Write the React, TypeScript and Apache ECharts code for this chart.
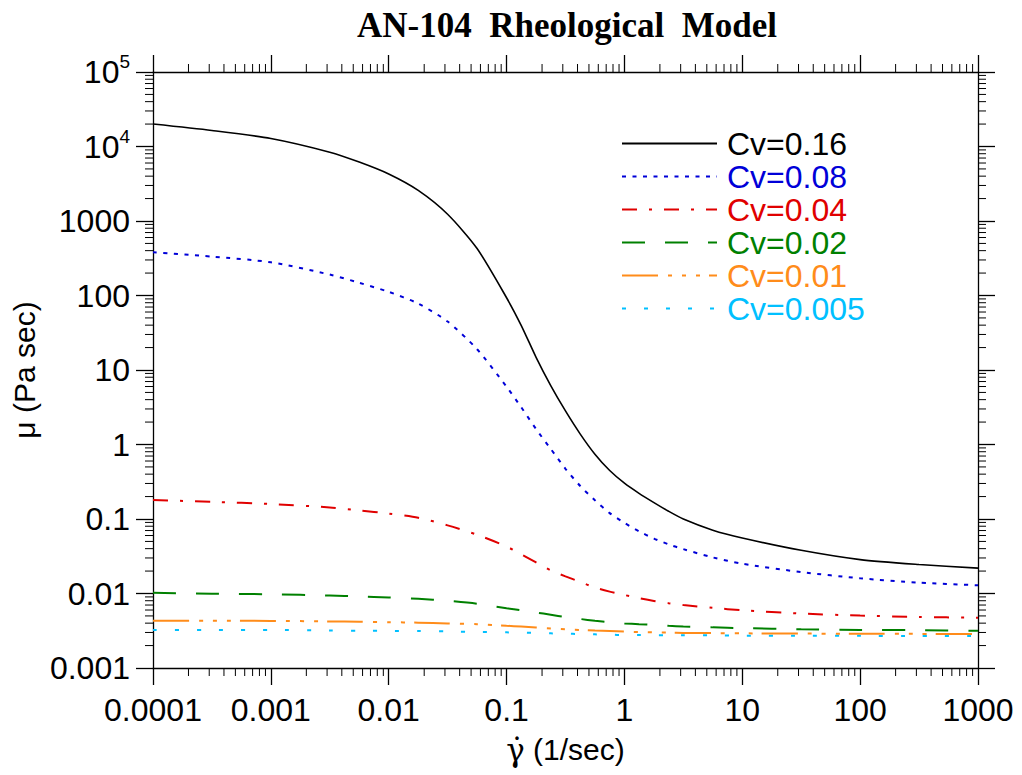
import React, { useEffect, useRef } from 'react';
import * as echarts from 'echarts';

// Shear rate (1/sec) sample points
const shearRates = [0.0001, 0.000316, 0.001, 0.00316, 0.00562, 0.01, 0.0178, 0.0316, 0.0562, 0.1, 0.133, 0.178, 0.237, 0.316, 0.422, 0.562, 0.75, 1, 1.33, 1.78, 2.37, 3.16, 5.62, 10, 31.6, 100, 316, 1000];

const seriesNames = ['Cv=0.16', 'Cv=0.08', 'Cv=0.04', 'Cv=0.02', 'Cv=0.01', 'Cv=0.005'];

const mu016 = [20000, 16400, 12800, 8380, 6170, 4270, 2570, 1230, 427, 93.3, 39.8, 14.8, 6.17, 2.82, 1.38, 0.741, 0.447, 0.302, 0.221, 0.166, 0.127, 0.1, 0.0708, 0.0556, 0.038, 0.0285, 0.0245, 0.0219];
const mu008 = [380, 333, 279, 191, 148, 112, 77.8, 44.7, 19, 5.96, 3.17, 1.61, 0.873, 0.472, 0.277, 0.178, 0.12, 0.0887, 0.0684, 0.0546, 0.0457, 0.0394, 0.0305, 0.0251, 0.0194, 0.016, 0.014, 0.0129];
const mu004 = [0.18, 0.17, 0.159, 0.143, 0.1306, 0.118, 0.104, 0.0822, 0.0615, 0.0427, 0.0336, 0.0262, 0.0204, 0.017, 0.0143, 0.012, 0.0106, 0.00955, 0.00865, 0.00794, 0.00741, 0.00701, 0.00641, 0.00596, 0.00538, 0.00505, 0.00484, 0.00473];
const mu002 = [0.0102, 0.00993, 0.00977, 0.0094, 0.00914, 0.00883, 0.00851, 0.00798, 0.00728, 0.00634, 0.00596, 0.00556, 0.00519, 0.00482, 0.00455, 0.0043, 0.00411, 0.00397, 0.00387, 0.00379, 0.00369, 0.00361, 0.00351, 0.00343, 0.00331, 0.00324, 0.00322, 0.00316];
const mu001 = [0.00431, 0.00431, 0.00429, 0.00422, 0.00417, 0.00412, 0.00406, 0.00396, 0.00387, 0.00369, 0.0036, 0.00349, 0.0034, 0.0033, 0.00324, 0.00318, 0.00313, 0.00308, 0.00304, 0.00301, 0.00298, 0.00296, 0.00294, 0.00292, 0.0029, 0.00288, 0.00287, 0.00285];
const mu0005 = [0.00324, 0.00324, 0.00324, 0.00318, 0.00316, 0.00315, 0.00313, 0.0031, 0.00305, 0.00301, 0.00299, 0.00295, 0.00292, 0.00289, 0.00286, 0.00283, 0.0028, 0.00277, 0.00277, 0.00276, 0.00275, 0.00275, 0.00274, 0.00272, 0.00271, 0.0027, 0.00269, 0.00269];

const seriesValues = [mu016, mu008, mu004, mu002, mu001, mu0005];
const seriesColors = ['#000000', '#0000d8', '#e00000', '#008000', '#ff8c1a', '#00c0ff'];
const seriesDashes: any[] = ['solid', [4, 6.5], [15, 12, 3, 12], [23, 20], [36, 10, 4, 10, 4, 10, 4, 9], [4, 18]];
const seriesWidths = [1.6, 2, 2, 2, 2, 2];

const xTickLabels = ['0.0001', '0.001', '0.01', '0.1', '1', '10', '100', '1000'];
const yTickLabels = ['0.001', '0.01', '0.1', '1', '10', '100', '1000', '10^4', '10^5'];
const xMin = 0.0001;
const xMax = 1000;
const yMin = 0.001;
const yMax = 100000;
const minorMultipliers = [2, 3, 4, 5, 6, 7, 8, 9];

const titleText = 'AN-104  Rheological  Model';
const xNameSymbol = 'γ̇';
const xNameUnit = ' (1/sec)';
const yName = 'μ (Pa sec)';

function buildMinor(min: number, max: number): number[] {
  const out: number[] = [];
  for (let d = min; d < max * 0.999; d *= 10) {
    for (const m of minorMultipliers) out.push(+(d * m).toPrecision(6));
  }
  return out;
}

export default function App() {
  const ref = useRef<HTMLDivElement>(null);
  useEffect(() => {
    document.body.style.margin = '0';
    const chart = echarts.init(ref.current!, undefined, { renderer: 'svg' });
    const font = 'Liberation Sans, Arial, sans-serif';
    const xMinor = buildMinor(xMin, xMax);
    const yMinor = buildMinor(yMin, yMax);
    const tickStyle = { stroke: '#000', lineWidth: 1 };

    const yLabelFmt = (v: number) => {
      const i = Math.round(Math.log10(v)) + 3;
      const s = yTickLabels[i] || '';
      if (s.indexOf('^') >= 0) {
        const [b, e] = s.split('^');
        return `{b|${b}}{sup|${e}}`;
      }
      return `{n|${s}}`;
    };
    const xLabelFmt = (v: number) => {
      const i = Math.round(Math.log10(v)) + 4;
      return xTickLabels[i] || '';
    };

    const axisLineStyle = { color: '#000', width: 1.3 };
    const baseX = {
      type: 'log' as const,
      logBase: 10,
      min: xMin,
      max: xMax,
      splitNumber: 7,
      splitLine: { show: false },
      axisLine: { show: true, lineStyle: axisLineStyle },
      axisTick: { show: true, inside: false, length: 17, lineStyle: { color: '#000', width: 1.3 } },
    };
    const baseY = {
      type: 'log' as const,
      logBase: 10,
      min: yMin,
      max: yMax,
      splitNumber: 8,
      splitLine: { show: false },
      axisLine: { show: true, lineStyle: axisLineStyle },
      axisTick: { show: true, inside: false, length: 17, lineStyle: { color: '#000', width: 1.3 } },
    };

    const lineSeries = seriesNames.map((name, i) => ({
      name,
      type: 'line',
      xAxisIndex: 0,
      yAxisIndex: 0,
      data: shearRates.map((g, j) => [g, seriesValues[i][j]]),
      symbol: 'none',
      showSymbol: false,
      smooth: 0.25,
      lineStyle: { color: seriesColors[i], width: seriesWidths[i], type: seriesDashes[i] },
      itemStyle: { color: seriesColors[i] },
      z: 10 - i,
    }));

    const option: any = {
      animation: false,
      grid: { left: 153, right: 44, top: 72, bottom: 107, containLabel: false },
      graphic: [
        {
          type: 'text',
          style: {
            text: titleText,
            x: 567,
            y: 25,
            textAlign: 'center',
            textVerticalAlign: 'middle',
            fontFamily: 'Liberation Serif, Times New Roman, serif',
            fontWeight: 'bold',
            fontSize: 35,
            fill: '#000',
          },
        },
      ],
      legend: {
        orient: 'vertical',
        left: 621,
        top: 127,
        padding: 0,
        itemWidth: 95,
        itemHeight: 14,
        itemGap: 0,
        selectedMode: false,
        itemStyle: { opacity: 0 },
        data: seriesNames.map((n, i) => ({ name: n, textStyle: { color: seriesColors[i] } })),
        textStyle: { fontSize: 32, fontFamily: font, lineHeight: 33, padding: [0, 0, 0, 5] },
      },
      xAxis: [
        {
          ...baseX,
          position: 'bottom',
          name: `{g|${xNameSymbol}}{u|${xNameUnit}}`,
          nameLocation: 'middle',
          nameGap: 66,
          nameTextStyle: {
            fontSize: 30,
            fontFamily: font,
            color: '#000',
            rich: {
              g: { fontSize: 31, fontFamily: 'DejaVu Serif, DejaVu Sans', color: '#000' },
              u: { fontSize: 30, fontFamily: font, color: '#000' },
            },
          },
          axisLabel: { show: true, fontSize: 32, fontFamily: font, color: '#000', margin: 26, formatter: xLabelFmt, showMinLabel: true, showMaxLabel: true },
        },
        {
          ...baseX,
          position: 'top',
          axisLabel: { show: false },
        },
      ],
      yAxis: [
        {
          ...baseY,
          position: 'left',
          name: yName,
          nameLocation: 'middle',
          nameGap: 108,
          nameRotate: 90,
          nameTextStyle: { fontSize: 30, fontFamily: font, color: '#000' },
          axisLabel: {
            show: true,
            margin: 23,
            formatter: yLabelFmt,
            showMinLabel: true,
            showMaxLabel: true,
            rich: {
              n: { fontSize: 32, fontFamily: font, color: '#000' },
              b: { fontSize: 32, fontFamily: font, color: '#000', lineHeight: 40 },
              sup: { fontSize: 19, fontFamily: font, color: '#000', lineHeight: 19, verticalAlign: 'top' },
            },
          },
        },
        {
          ...baseY,
          position: 'right',
          axisLabel: { show: false },
        },
      ],
      series: [
        ...lineSeries,
        {
          type: 'custom',
          xAxisIndex: 0,
          yAxisIndex: 0,
          silent: true,
          clip: false,
          data: xMinor.map((v) => [v, 1]),
          renderItem: (_p: any, api: any) => {
            const v = api.value(0);
            const pb = api.coord([v, yMin]);
            const pt = api.coord([v, yMax]);
            return {
              type: 'group',
              children: [
                { type: 'line', shape: { x1: pb[0], y1: pb[1], x2: pb[0], y2: pb[1] + 8 }, style: tickStyle },
                { type: 'line', shape: { x1: pt[0], y1: pt[1], x2: pt[0], y2: pt[1] - 8 }, style: tickStyle },
              ],
            };
          },
        },
        {
          type: 'custom',
          xAxisIndex: 0,
          yAxisIndex: 0,
          silent: true,
          clip: false,
          data: yMinor.map((v) => [1, v]),
          renderItem: (_p: any, api: any) => {
            const v = api.value(1);
            const pl = api.coord([xMin, v]);
            const pr = api.coord([xMax, v]);
            return {
              type: 'group',
              children: [
                { type: 'line', shape: { x1: pl[0], y1: pl[1], x2: pl[0] - 8, y2: pl[1] }, style: tickStyle },
                { type: 'line', shape: { x1: pr[0], y1: pr[1], x2: pr[0] + 8, y2: pr[1] }, style: tickStyle },
              ],
            };
          },
        },
      ],
    };
    chart.setOption(option);
    return () => chart.dispose();
  }, []);
  return <div ref={ref} style={{ width: 1022, height: 775 }} />;
}
